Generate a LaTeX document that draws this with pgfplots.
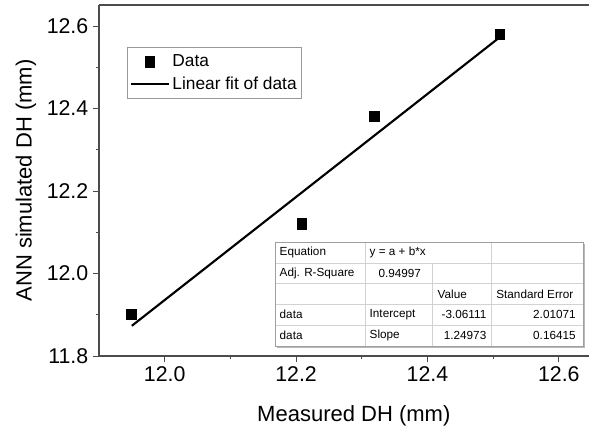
\documentclass[border=0pt]{standalone}
\usepackage{pgfplots}
\pgfplotsset{compat=1.18}
\usepackage{fontspec}
\setmainfont{Liberation Sans}
\pgfplotsset{
    midmarklegend/.style={legend image code/.code={\draw[mark repeat=2,mark phase=2,##1] plot coordinates {(0cm,0cm)(0.5cm,0cm)(1cm,0cm)};}},
    longlinelegend/.style={legend image code/.code={\draw[##1] (0cm,0cm) -- (1cm,0cm);}},
}

\begin{document}
\begin{tikzpicture}
\begin{axis}[
    scale only axis,
    width=367.5pt,
    height=263.25pt,
    xmin=11.9, xmax=12.646,
    ymin=11.8, ymax=12.651,
    axis y line*=left,
    xtick pos=left,
    xtick={12.0,12.2,12.4,12.6},
    ytick={11.8,12.0,12.2,12.4,12.6},
    minor xtick={12.1,12.3,12.5},
    minor ytick={11.9,12.1,12.3,12.5},
    tick align=outside,
    major tick length=4.5pt,
    minor tick length=2.5pt,
    tick style={gray!60!black, line width=0.7pt},
    axis line style={gray!60!black, line width=0.9pt},
    tick label style={font=\fontsize{16}{18}\selectfont},
    /pgf/number format/.cd, fixed, fixed zerofill, precision=1, assume math mode=true,
    /pgfplots/.cd,
    xlabel={Measured DH (mm)},
    ylabel={ANN simulated DH (mm)},
    label style={font=\fontsize{16.5}{19}\selectfont},
    xlabel style={at={(axis description cs:0.52,-0.171)}, anchor=center},
    ylabel style={at={(axis description cs:-0.149,0.5)}, anchor=center},
    legend cell align=left,
    legend style={at={(axis description cs:0.058,0.88)}, anchor=north west,
        draw=gray!80, font=\fontsize{13}{15}\selectfont,
        inner xsep=1.5pt, inner ysep=3.5pt, row sep=2pt},
]
\addplot[only marks, mark=square*, mark size=3.5pt, mark options={yscale=1.15}, black, midmarklegend]
    coordinates {(11.949,11.901) (12.209,12.120) (12.319,12.381) (12.510,12.580)};
\addlegendentry{Data}
\addplot[black, line width=1.6pt, longlinelegend]
    coordinates {(11.95,11.8732) (12.51,12.5727)};
\addlegendentry{Linear fit of data}
\end{axis}

% fit summary table
\begin{scope}[shift={([xshift=132pt,yshift=85.5pt]current axis.south west)},
    font=\fontsize{8.8}{10}\selectfont]
\fill[gray!55] (1.3pt,-1.3pt) rectangle (232.3pt,-79.3pt);
\fill[white] (0,0) rectangle (231pt,-78pt);
\draw[gray!35] (0,-15.6pt) -- (231pt,-15.6pt)
    (0,-31.2pt) -- (231pt,-31.2pt)
    (0,-46.8pt) -- (231pt,-46.8pt)
    (0,-62.4pt) -- (231pt,-62.4pt)
    (67.5pt,0) -- (67.5pt,-78pt)
    (117.75pt,-15.6pt) -- (117.75pt,-78pt)
    (162pt,0) -- (162pt,-78pt);
\draw[gray!75] (0,0) rectangle (231pt,-78pt);
\node[anchor=west] at (0pt,-7.8pt) {Equation};
\node[anchor=west] at (67.5pt,-7.8pt) {y = a + b*x};
\node[anchor=west] at (0pt,-23.4pt) {Adj. R-Square};
\node[anchor=east] at (113pt,-23.4pt) {0.94997};
\node[anchor=west] at (118.5pt,-39pt) {Value};
\node[anchor=west] at (162.5pt,-39pt) {Standard Error};
\node[anchor=west] at (0pt,-54.6pt) {data};
\node[anchor=west] at (67.5pt,-54.6pt) {Intercept};
\node[anchor=east] at (162pt,-54.6pt) {-3.06111};
\node[anchor=east] at (229pt,-54.6pt) {2.01071};
\node[anchor=west] at (0pt,-70.2pt) {data};
\node[anchor=west] at (67.5pt,-70.2pt) {Slope};
\node[anchor=east] at (162pt,-70.2pt) {1.24973};
\node[anchor=east] at (229pt,-70.2pt) {0.16415};
\end{scope}

\pgfresetboundingbox
\path[use as bounding box] ([xshift=-74.25pt,yshift=-60pt]current axis.south west)
    rectangle ([yshift=3.75pt]current axis.north east);
\end{tikzpicture}
\end{document}
